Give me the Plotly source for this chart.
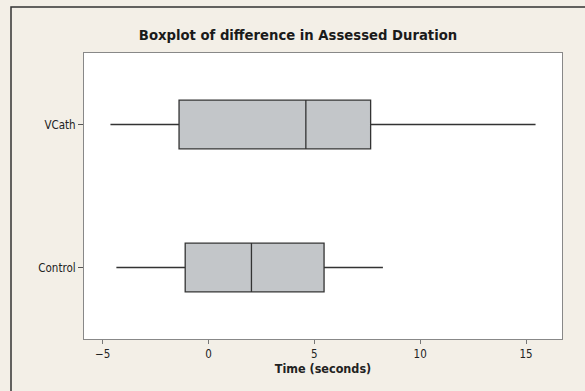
import plotly.graph_objects as go

groups = ["Control", "VCath"]
lower_whisker = [-4.35, -4.63]
q1_vals = [-1.10, -1.39]
medians = [2.03, 4.60]
q3_vals = [5.46, 7.66]
upper_whisker = [8.24, 15.45]
x_ticks = [-5, 0, 5, 10, 15]

fig = go.Figure()
fig.add_trace(go.Box(
    y=groups,
    q1=q1_vals, median=medians, q3=q3_vals,
    lowerfence=lower_whisker, upperfence=upper_whisker,
    orientation="h",
    width=0.34,
    whiskerwidth=0,
    fillcolor="#c3c6c9",
    line=dict(color="#333333", width=1.3),
    boxpoints=False,
    showlegend=False,
    hoverinfo="x",
))

L, R, T, B = 84, 23, 53, 52
W, H = 585, 391
pw, ph = W - L - R, H - T - B
# outer frame in paper coords (right and bottom edges fall outside the view)
fx0 = (11 - L) / pw
fy1 = 1 + (T - 7) / ph
fx1 = 1 + (R + 20) / pw
fy0 = -(B + 20) / ph

fig.update_layout(
    width=W, height=H,
    margin=dict(l=L, r=R, t=T, b=B, autoexpand=False),
    paper_bgcolor="#f3efe7",
    plot_bgcolor="#ffffff",
    font=dict(family="DejaVu Sans Condensed, DejaVu Sans, sans-serif", size=11.5, color="#222222"),
    title=dict(text="<b>Boxplot of difference in Assessed Duration</b>",
               x=298 / W, xanchor="center", y=1 - 35 / H, yanchor="middle",
               font=dict(size=14.7, color="#1a1a1a")),
    xaxis=dict(range=[-5.88, 16.70], tickvals=x_ticks, ticks="outside", ticklen=4,
               tickcolor="#777777", showline=True, linecolor="#888888", linewidth=1,
               mirror=True, showgrid=False, zeroline=False, automargin=False,
               title=dict(text="<b>Time (seconds)</b>", standoff=4, font=dict(size=12.5))),
    yaxis=dict(type="category", categoryarray=groups, range=[-0.5, 1.5],
               ticks="outside", ticklen=5, tickcolor="#555555", automargin=False,
               showline=True, linecolor="#888888", linewidth=1, mirror=True,
               showgrid=False, zeroline=False),
    shapes=[dict(type="rect", xref="paper", yref="paper",
                 x0=fx0, x1=fx1, y0=fy0, y1=fy1,
                 line=dict(color="#333333", width=1.5), layer="below")],
)

fig.write_html("out.html", config={"displayModeBar": False},
               post_script="document.body.style.margin='0';")
